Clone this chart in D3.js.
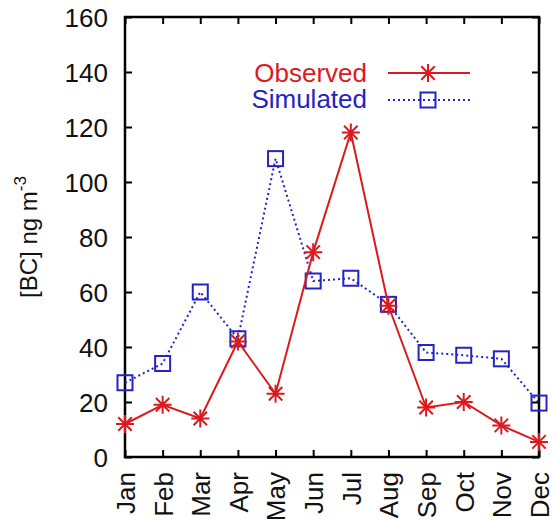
<!DOCTYPE html>
<html>
<head>
<meta charset="utf-8">
<script src="https://cdn.jsdelivr.net/npm/d3@7"></script>
<style>
  body { margin: 0; background: #fff; }
  text { font-family: "Liberation Sans", Arial, sans-serif; }
</style>
</head>
<body>
<div id="chart"></div>
<script>
// data
var months = ["Jan","Feb","Mar","Apr","May","Jun","Jul","Aug","Sep","Oct","Nov","Dec"];
var observed = [12, 19, 14, 42, 23, 74.5, 118, 55, 18, 20, 11.5, 5.5];
var simulated = [27, 34, 60, 43, 108.5, 64, 65, 55.5, 38, 37, 35.7, 19.6];
var yTicks = [0, 20, 40, 60, 80, 100, 120, 140, 160];

var W = 552, H = 520;
var margin = {top: 17, right: 13, bottom: 63, left: 125},
    w = W - margin.left - margin.right,
    h = H - margin.top - margin.bottom;

var red = "#dc1a1e", blue = "#2424c4";
var fs = 26;

var x = d3.scalePoint().domain(months).range([0, w]);
var y = d3.scaleLinear().domain([0, 160]).range([h, 0]);

var svg = d3.select("#chart").append("svg")
    .attr("width", W).attr("height", H)
  .append("g")
    .attr("transform", "translate(" + margin.left + "," + margin.top + ")");

// axes, ticks point inward like gnuplot
var tick = 7;
var yAxisL = d3.axisLeft(y).tickValues(yTicks).tickSize(-tick).tickPadding(17);
var yAxisR = d3.axisRight(y).tickValues(yTicks).tickSize(-tick).tickFormat("");
var xAxisB = d3.axisBottom(x).tickSize(-tick).tickPadding(10);
var xAxisT = d3.axisTop(x).tickSize(-tick).tickFormat("");

function styleAxis(g) {
  g.select(".domain").remove();
  g.selectAll(".tick line").attr("stroke", "#000").attr("stroke-width", 2);
  g.selectAll("text").attr("font-size", fs).attr("fill", "#111");
}

svg.append("g").call(yAxisL).call(styleAxis)
  .selectAll("text").attr("dy", "0.36em");
svg.append("g").attr("transform", "translate(" + w + ",0)").call(yAxisR).call(styleAxis);
svg.append("g").call(xAxisT).call(styleAxis);
svg.append("g").attr("transform", "translate(0," + h + ")").call(xAxisB).call(styleAxis)
  .selectAll("text")
    .attr("transform", "rotate(-90)")
    .attr("text-anchor", "end")
    .attr("x", -15).attr("y", 0).attr("dy", "0.36em");

// frame
svg.append("rect")
  .attr("width", w).attr("height", h)
  .attr("fill", "none").attr("stroke", "#000").attr("stroke-width", 2.5);

// y label
var yl = svg.append("text")
  .attr("transform", "translate(" + (-margin.left + 37) + "," + (h / 2) + ") rotate(-90)")
  .attr("text-anchor", "middle")
  .attr("font-size", 24).attr("fill", "#111");
yl.append("tspan").text("[BC] ng m");
yl.append("tspan").attr("dy", -11).attr("font-size", 17).text("-3");

var line = d3.line()
  .x(function(d, i) { return x(months[i]); })
  .y(function(d) { return y(d); });

function star(g, cx, cy, r, color) {
  var d = "M" + (cx - r) + "," + cy + "H" + (cx + r) +
          "M" + cx + "," + (cy - r) + "V" + (cy + r);
  var k = r * 0.75;
  d += "M" + (cx - k) + "," + (cy - k) + "L" + (cx + k) + "," + (cy + k) +
       "M" + (cx - k) + "," + (cy + k) + "L" + (cx + k) + "," + (cy - k);
  g.append("path").attr("d", d).attr("stroke", color).attr("stroke-width", 2).attr("fill", "none");
}

function square(g, cx, cy, s, color) {
  g.append("rect")
    .attr("x", cx - s / 2).attr("y", cy - s / 2)
    .attr("width", s).attr("height", s)
    .attr("fill", "none").attr("stroke", color).attr("stroke-width", 2);
}

// Simulated series
svg.append("path").datum(simulated)
  .attr("d", line).attr("fill", "none")
  .attr("stroke", blue).attr("stroke-width", 2).attr("stroke-dasharray", "2,3");
var sg = svg.append("g");
simulated.forEach(function(v, i) { square(sg, x(months[i]), y(v), 15, blue); });

// Observed series
svg.append("path").datum(observed)
  .attr("d", line).attr("fill", "none")
  .attr("stroke", red).attr("stroke-width", 2);
var og = svg.append("g");
observed.forEach(function(v, i) { star(og, x(months[i]), y(v), 9, red); });

// legend
var lg = svg.append("g").attr("transform", "translate(" + (-margin.left) + "," + (-margin.top) + ")");
lg.append("text").attr("x", 367).attr("y", 82).attr("text-anchor", "end")
  .attr("font-size", fs).attr("fill", red).text("Observed");
lg.append("line").attr("x1", 388).attr("x2", 470).attr("y1", 73).attr("y2", 73)
  .attr("stroke", red).attr("stroke-width", 2);
star(lg, 428, 73, 9, red);
lg.append("text").attr("x", 367).attr("y", 108).attr("text-anchor", "end")
  .attr("font-size", fs).attr("fill", blue).text("Simulated");
lg.append("line").attr("x1", 388).attr("x2", 470).attr("y1", 100).attr("y2", 100)
  .attr("stroke", blue).attr("stroke-width", 2).attr("stroke-dasharray", "2,3");
square(lg, 428, 100, 15, blue);
</script>
</body>
</html>
